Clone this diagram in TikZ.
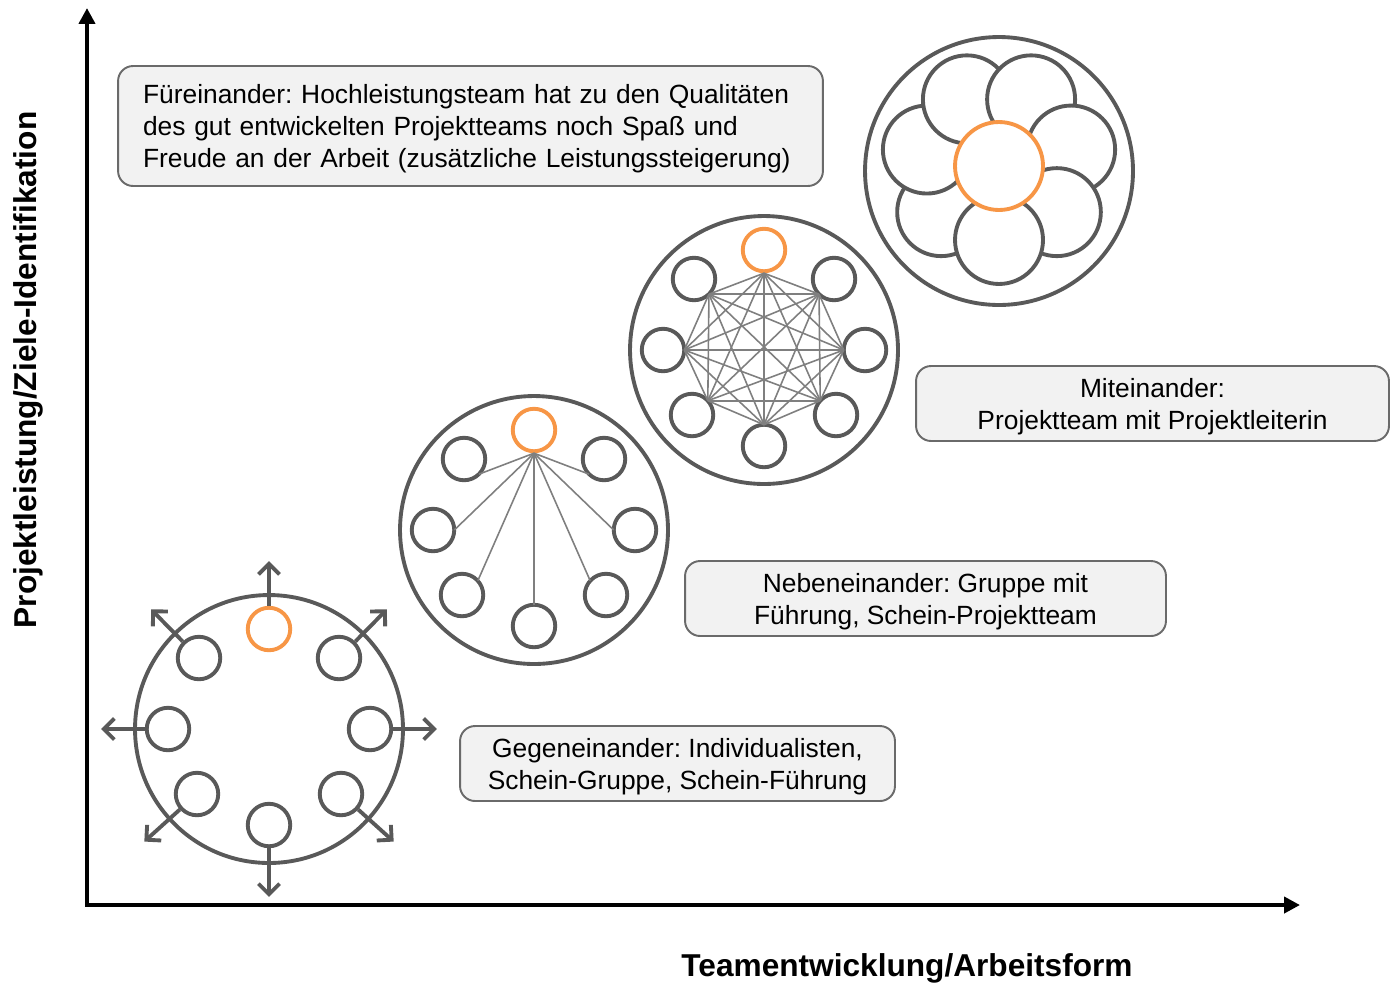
\documentclass[tikz,border=0pt]{standalone}
\usepackage{fontspec}
\setmainfont{Liberation Sans}
\usepackage{tikz}
\usetikzlibrary{calc,arrows.meta}
\frenchspacing
\definecolor{teamgray}{HTML}{595959}
\definecolor{linkgray}{HTML}{7F7F7F}
\definecolor{teamorange}{HTML}{F79646}
\definecolor{boxgray}{HTML}{6A6A6A}
\definecolor{boxfill}{HTML}{F2F2F2}
\tikzset{
    ring/.style={circle, draw=teamgray, line width=2.2pt, minimum size=5.36cm, inner sep=0pt},
    member/.style={circle, draw=teamgray, fill=white, line width=2.2pt, minimum size=0.85cm, inner sep=0pt},
    leader/.style={member, draw=teamorange},
    petal/.style={member, minimum size=1.76cm},
    link/.style={draw=linkgray, line width=0.9pt},
    spread/.style={draw=teamgray, line width=2.2pt, -{Straight Barb[length=6pt,width=12pt]}},
    axis/.style={line width=2.6pt, {Triangle[length=9pt,width=9pt]}-{Triangle[length=9pt,width=9pt]}},
    stage/.style={draw=boxgray, fill=boxfill, rounded corners=0.3cm, line width=1.1pt, inner sep=0pt,
        font=\fontsize{15}{18.2}\selectfont, align=center},
    axislabel/.style={font=\fontsize{18}{21}\selectfont\bfseries},
}

\begin{document}
\begin{tikzpicture}[x=0.02cm, y=-0.02cm]
\useasboundingbox (0,0) rectangle (1391,988);

% axes
\coordinate (o) at (87,905);
\coordinate (ytip) at (87,8);
\coordinate (xtip) at (1300,905);
\draw[axis] (ytip) -- (o) -- (xtip);
\node[axislabel, rotate=90] (ylab) at (28,370) {Projektleistung/Ziele-Identifikation};
\node[axislabel] (xlab) at (907,968) {Teamentwicklung/Arbeitsform};

% Gegeneinander
\node[ring] (g1) at (269,729) {};
\node[leader] (g1l) at ($(g1)+(0,-100)$) {};
\foreach \dx/\dy [count=\i] in {-70/-71,70/-71,-101/0,101/0,-72/65,72/65,0/96}
    \node[member] (g1m\i) at ($(g1)+(\dx,\dy)$) {};
\foreach \n in {g1l,g1m1,g1m2,g1m3,g1m4,g1m5,g1m6,g1m7}
    \draw[spread] (\n) -- ($(g1)!3.36cm!(\n)$);

% Nebeneinander
\node[ring] (g2) at (534,530) {};
\node[leader] (g2l) at ($(g2)+(0,-100)$) {};
\foreach \dx/\dy [count=\i] in {-70/-71,70/-71,-101/0,101/0,-72/65,72/65,0/96} {
    \node[member] (g2m\i) at ($(g2)+(\dx,\dy)$) {};
    \coordinate (g2p\i) at ($(g2m\i)!0.426cm!(g2)$);
    \draw[link] (g2l.south) -- (g2p\i);
}

% Miteinander
\node[ring] (g3) at (764,350) {};
\node[leader] (g3l) at ($(g3)+(0,-100)$) {};
\coordinate (g3p0) at (g3l.south);
\foreach \dx/\dy [count=\i] in {-70/-71,70/-71,-101/0,101/0,-72/65,72/65,0/96} {
    \node[member] (g3m\i) at ($(g3)+(\dx,\dy)$) {};
    \coordinate (g3p\i) at ($(g3m\i)!0.426cm!(g3)$);
}
\foreach \i in {1,...,7} {
    \pgfmathtruncatemacro\last{\i-1}
    \foreach \j in {0,...,\last}
        \draw[link] (g3p\i) -- (g3p\j);
}

% Fuereinander
\node[ring] (g4) at (999,171) {};
\coordinate (g4c) at (999,166);
\foreach \k in {6,...,0}
    \node[petal] (g4m\k) at ($(g4c)+({-90+\k*360/7}:1.48cm)$) {};
\node[leader, minimum size=1.76cm] (g4l) at (g4c) {};

% stages
\node[stage, minimum width=14.1cm, minimum height=2.4cm, text width=13.1cm, align=left] (s4) at (470.5,126)
    {\rule{0pt}{13.5pt}F\"ureinander: Hochleistungsteam hat zu den Qualit\"aten\\des gut entwickelten Projektteams noch Spa\ss{} und\\Freude an der Arbeit (zus\"atzliche Leistungssteigerung)};
\node[stage, minimum width=9.46cm, minimum height=1.5cm] (s3) at (1152.5,403.5)
    {\rule{0pt}{14.5pt}Miteinander:\\Projektteam mit Projektleiterin};
\node[stage, minimum width=9.62cm, minimum height=1.5cm] (s2) at (925.5,598.5)
    {\rule{0pt}{14.5pt}Nebeneinander: Gruppe mit\\F\"uhrung, Schein-Projektteam};
\node[stage, minimum width=8.7cm, minimum height=1.5cm] (s1) at (677.5,763.5)
    {\rule{0pt}{14.5pt}Gegeneinander: Individualisten,\\Schein-Gruppe, Schein-F\"uhrung};
\end{tikzpicture}
\end{document}
